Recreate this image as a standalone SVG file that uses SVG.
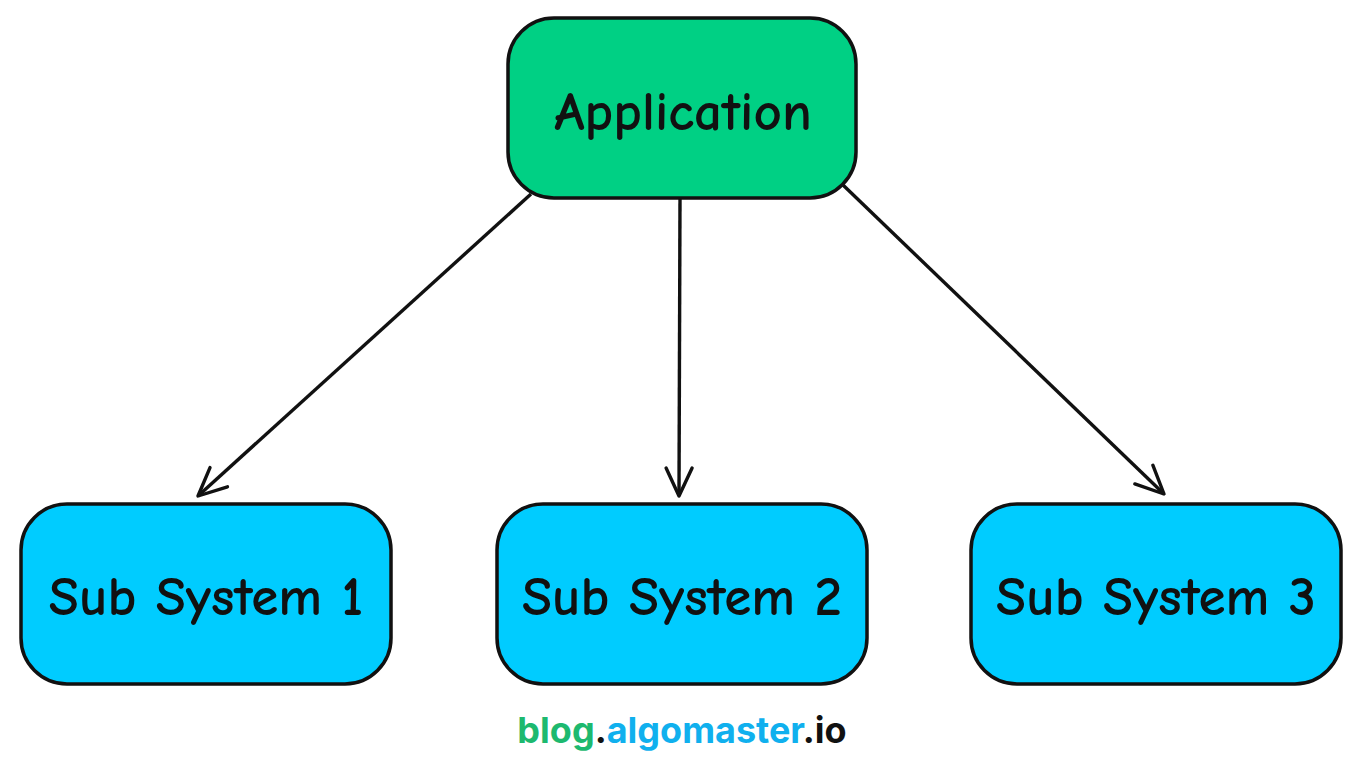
<svg xmlns="http://www.w3.org/2000/svg" width="1362" height="770" viewBox="0 0 1362 770">
<style>
.box{stroke:#111;stroke-width:3.5}
.app{fill:#00D084}
.sub{fill:#00CCFF}
.lbl{font-family:"Comic Neue","Comic Sans MS","DejaVu Sans","Liberation Sans",sans-serif;font-weight:700;font-size:55px;fill:#111;text-anchor:middle}
.edge{stroke:#111;stroke-width:3.4;fill:none}
.foot{font-family:Inter,"Liberation Sans",sans-serif;font-weight:700;font-size:36px}
</style>
<defs>
<marker id="arr" viewBox="0 0 20 20" refX="18" refY="10" markerWidth="20" markerHeight="20" markerUnits="userSpaceOnUse" orient="auto" overflow="visible">
<path d="M-10 -3 L18 10 L-10 23" fill="none" stroke="#111" stroke-width="3.4" stroke-linecap="round" stroke-linejoin="round"/>
</marker>
</defs>
<g id="connectors">
<path class="edge" d="M531 194 L198 496" marker-end="url(#arr)"/>
<path class="edge" d="M680 199 L679 496" marker-end="url(#arr)"/>
<path class="edge" d="M843 185 L1164 494" marker-end="url(#arr)"/>
</g>
<g id="application">
<rect class="box app" x="508" y="18" width="348" height="180" rx="46"/>
<text class="lbl" x="683" y="130">Application</text>
</g>
<g id="sub1">
<rect class="box sub" x="21" y="504" width="370" height="180" rx="46"/>
<text class="lbl" x="206" y="615">Sub System 1</text>
</g>
<g id="sub2">
<rect class="box sub" x="497" y="504" width="370" height="180" rx="46"/>
<text class="lbl" x="682" y="615">Sub System 2</text>
</g>
<g id="sub3">
<rect class="box sub" x="971" y="504" width="370" height="180" rx="46"/>
<text class="lbl" x="1156" y="615">Sub System 3</text>
</g>
<g id="footer">
<text class="foot" x="682" y="743" text-anchor="middle"><tspan fill="#1DB96F">blog</tspan><tspan fill="#111">.</tspan><tspan fill="#10B0EE">algomaster</tspan><tspan fill="#111">.io</tspan></text>
</g>
</svg>
